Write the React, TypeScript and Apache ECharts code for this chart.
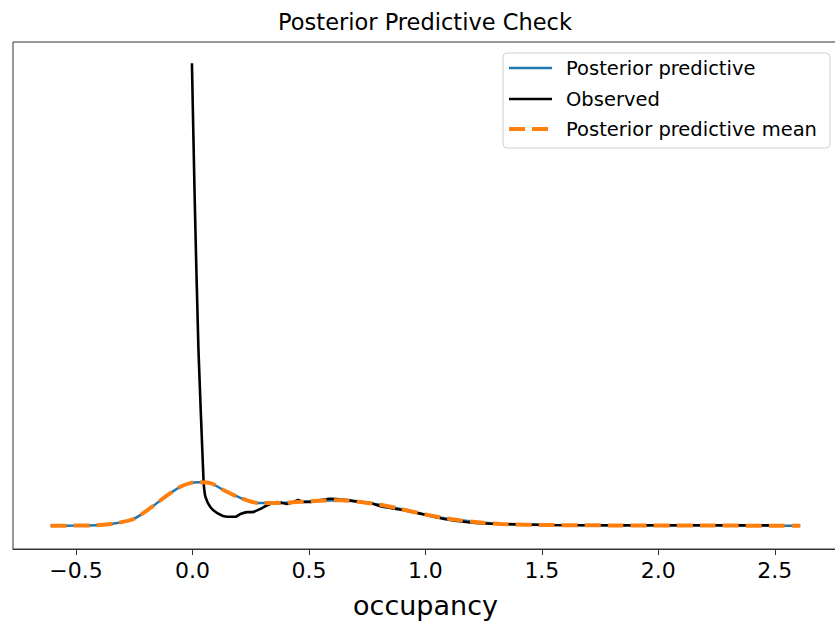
import React, { useEffect, useRef } from "react";
import * as echarts from "echarts";

const TITLE = "Posterior Predictive Check";
const X_LABEL = "occupancy";
const xTicks = [-0.5, 0, 0.5, 1, 1.5, 2, 2.5];
const seriesNames = ["Posterior predictive", "Observed", "Posterior predictive mean"];
const seriesColors = ["#1f77b4", "#000000", "#ff7f0e"];

// Posterior predictive mean KDE
const meanX = [-0.609, -0.5, -0.395, -0.322, -0.253, -0.18, -0.107, -0.052, -0.009, 0.026, 0.077, 0.133, 0.206, 0.279, 0.378, 0.519, 0.635, 0.751, 0.807, 0.893, 1.009, 1.107, 1.215, 1.322, 1.536, 1.8, 2.2, 2.609];
const meanY = [0.006, 0.008, 0.02, 0.065, 0.15, 0.39, 0.67, 0.85, 0.93, 0.95, 0.93, 0.78, 0.61, 0.5, 0.5, 0.54, 0.56, 0.5, 0.46, 0.37, 0.24, 0.15, 0.087, 0.043, 0.02, 0.012, 0.008, 0.006];

// Posterior predictive (sample KDE)
const ppX = [-0.609, -0.5, -0.395, -0.322, -0.253, -0.18, -0.107, -0.052, -0.009, 0.026, 0.077, 0.133, 0.206, 0.279, 0.378, 0.519, 0.635, 0.751, 0.807, 0.893, 1.009, 1.107, 1.215, 1.322, 1.536, 1.8, 2.2, 2.609];
const ppY = [0.006, 0.008, 0.02, 0.065, 0.15, 0.39, 0.67, 0.85, 0.93, 0.95, 0.93, 0.78, 0.61, 0.5, 0.5, 0.54, 0.56, 0.5, 0.46, 0.37, 0.24, 0.15, 0.087, 0.043, 0.02, 0.012, 0.008, 0.006];

// Observed KDE
const obsX = [-0.002, 0.01, 0.026, 0.046, 0.049, 0.056, 0.077, 0.107, 0.15, 0.185, 0.206, 0.236, 0.258, 0.292, 0.326, 0.365, 0.386, 0.408, 0.433, 0.455, 0.476, 0.506, 0.549, 0.592, 0.665, 0.721, 0.764, 0.807, 0.85, 0.948, 1.034, 1.107, 1.215, 1.322, 1.536, 1.966, 2.515];
const obsY = [10.04, 7.07, 3.82, 1.21, 0.89, 0.63, 0.41, 0.28, 0.2, 0.2, 0.26, 0.3, 0.3, 0.37, 0.46, 0.52, 0.5, 0.48, 0.52, 0.56, 0.52, 0.52, 0.56, 0.59, 0.56, 0.52, 0.5, 0.43, 0.39, 0.3, 0.2, 0.13, 0.065, 0.043, 0.02, 0.015, 0.015];

const FONT = "DejaVu Sans";
const DASH = [16, 7];

const zip = (xs: number[], ys: number[]) => xs.map((x, i) => [x, ys[i]]);
const fmt = (v: number) => (v < 0 ? "\u2212" + Math.abs(v).toFixed(1) : v.toFixed(1));

function legendGraphic() {
  const boxX = 503, boxY = 53, boxW = 327, boxH = 95;
  const rowY = [68, 99, 129];
  const children: any[] = [
    {
      type: "rect",
      shape: { x: boxX, y: boxY, width: boxW, height: boxH, r: 4 },
      style: { fill: "rgba(255,255,255,0.8)", stroke: "#d0d0d0", lineWidth: 1 },
    },
  ];
  seriesNames.forEach((name, i) => {
    children.push({
      type: "line",
      shape: { x1: 509, y1: rowY[i], x2: 552, y2: rowY[i] },
      style: {
        stroke: seriesColors[i],
        lineWidth: i === 2 ? 4 : 2.4,
        lineDash: i === 2 ? DASH : null,
      },
    });
    children.push({
      type: "text",
      x: 566,
      y: rowY[i],
      style: {
        text: name,
        fontFamily: FONT,
        fontSize: 19.5,
        fill: "#000",
        verticalAlign: "middle",
        align: "left",
      },
    });
  });
  return { type: "group", children, z: 100 };
}

export default function App() {
  const ref = useRef<HTMLDivElement>(null);
  useEffect(() => {
    if (!ref.current) return;
    const chart = echarts.init(ref.current, undefined, { renderer: "svg" });
    chart.setOption({
      animation: false,
      backgroundColor: "#ffffff",
      title: {
        text: TITLE,
        left: 420,
        top: 5,
        textAlign: "center",
        textStyle: { fontFamily: FONT, fontSize: 22.5, fontWeight: "normal", color: "#000" },
      },
      graphic: [legendGraphic()],
      grid: {
        left: 13,
        top: 42,
        right: -3,
        bottom: 74,
        show: true,
        borderColor: "#333",
        borderWidth: 1,
        outerBoundsMode: "none",
      },
      xAxis: {
        type: "value",
        min: -0.77,
        max: 2.771,
        axisLine: { show: true, onZero: false, lineStyle: { color: "#333", width: 1 } },
        axisTick: { show: true, length: 6, customValues: xTicks, lineStyle: { color: "#333" } },
        axisLabel: { customValues: xTicks, formatter: fmt, fontFamily: FONT, fontSize: 22, color: "#000", margin: 10 },
        splitLine: { show: false },
        name: X_LABEL,
        nameLocation: "middle",
        nameGap: 43,
        nameTextStyle: { fontFamily: FONT, fontSize: 27, color: "#000" },
      },
      yAxis: {
        type: "value",
        min: -0.5,
        max: 10.5,
        axisLine: { show: false },
        axisTick: { show: false },
        axisLabel: { show: false },
        splitLine: { show: false },
      },
      series: [
        {
          name: seriesNames[0],
          type: "line",
          data: zip(ppX, ppY),
          showSymbol: false,
          symbol: "none",
          smooth: 0.3,
          color: seriesColors[0],
          lineStyle: { color: seriesColors[0], width: 2.5 },
          z: 2,
        },
        {
          name: seriesNames[1],
          type: "line",
          data: zip(obsX, obsY),
          showSymbol: false,
          symbol: "none",
          smooth: 0.2,
          color: seriesColors[1],
          lineStyle: { color: seriesColors[1], width: 2.6 },
          z: 3,
        },
        {
          name: seriesNames[2],
          type: "line",
          data: zip(meanX, meanY),
          showSymbol: false,
          symbol: "none",
          smooth: 0.3,
          color: seriesColors[2],
          lineStyle: { color: seriesColors[2], width: 4, type: DASH },
          z: 4,
        },
      ],
    });
    return () => chart.dispose();
  }, []);
  return (
    <div
      ref={ref}
      style={{ position: "fixed", left: 0, top: 0, width: 835, height: 623, background: "#fff" }}
    />
  );
}
